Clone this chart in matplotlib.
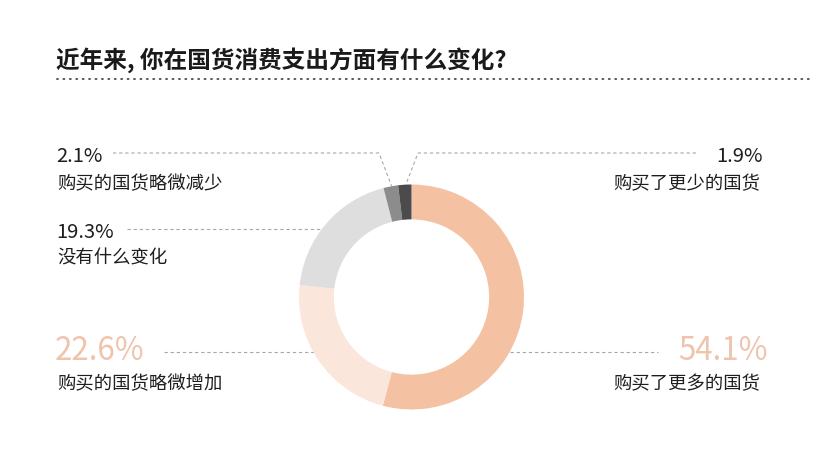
import numpy as np
import matplotlib
matplotlib.use('Agg')
import matplotlib.pyplot as plt

plt.rcParams['font.family'] = ['Noto Sans CJK SC', 'DejaVu Sans']

# data, clockwise from the top
labels = ['购买了更多的国货', '购买的国货略微增加', '没有什么变化',
          '购买的国货略微减少', '购买了更少的国货']
shares = [54.1, 22.6, 19.3, 2.1, 1.9]
colors = ['#F5C1A3', '#FBE6DB', '#DEDEDE', '#8C8C8C', '#4B4B4D']
title = '近年来, 你在国货消费支出方面有什么变化?'

W, H = 814, 458
fig = plt.figure(figsize=(W / 100, H / 100), dpi=100)

# background axes in pixel units for text and leader lines
bg = fig.add_axes([0, 0, 1, 1])
bg.set_xlim(0, W)
bg.set_ylim(H, 0)
bg.axis('off')

# donut
cx, cy, R = 411.5, 297, 112.5
ax = fig.add_axes([(cx - R) / W, (H - cy - R) / H, 2 * R / W, 2 * R / H])
ax.pie(shares, colors=colors, startangle=90, counterclock=False,
       radius=1, wedgeprops=dict(width=0.31, linewidth=0))
ax.set_xlim(-1, 1)
ax.set_ylim(-1, 1)
ax.axis('off')

# title + dotted rule
bg.text(56, 60, title, fontsize=17, fontweight='bold', color='#1A1A1A',
        va='center', ha='left')
bg.plot([57, W], [79, 79], color='#555555', lw=1.4,
        linestyle=(0, (0.5, 2.8)), dash_capstyle='round')

dash = dict(color='#A8A8A8', lw=0.8, linestyle=(0, (3, 2.5)))
pct_small = dict(fontsize=14.5, color='#1E1E1E', va='center', fontweight='medium')
pct_big = dict(fontsize=22.5, color='#F0C3AD', va='center')
lab = dict(fontsize=13.2, color='#1E1E1E', va='center')


def wedge_point(idx):
    # outer edge point at the middle of wedge idx, in pixel coords
    mid = (sum(shares[:idx]) + shares[idx] / 2) / sum(shares)
    ang = np.deg2rad(90 - 360 * mid)
    return cx + R * np.cos(ang), cy - R * np.sin(ang)


# 2.1% (left top)
bg.text(56, 156, f'{shares[3]}%', ha='left', **pct_small)
bg.text(57, 184, labels[3], ha='left', **lab)
px, py = wedge_point(3)
bg.plot([113, 379, px + 1], [153, 153, py], **dash)

# 1.9% (right top)
bg.text(763, 156, f'{shares[4]}%', ha='right', **pct_small)
bg.text(760, 184, labels[4], ha='right', **lab)
px, py = wedge_point(4)
bg.plot([696, 418, px + 1], [153, 153, py], **dash)

# 19.3%
bg.text(56, 232, f'{shares[2]}%', ha='left', **pct_small)
bg.text(57, 259, labels[2], ha='left', **lab)
bg.plot([127, 322], [229, 229], **dash)

# 22.6%
bg.text(55, 351, f'{shares[1]}%', ha='left', **pct_big)
bg.text(57, 384, labels[1], ha='left', **lab)
bg.plot([164, 316], [352, 352], **dash)

# 54.1%
bg.text(768, 351, f'{shares[0]}%', ha='right', **pct_big)
bg.text(760, 384, labels[0], ha='right', **lab)
bg.plot([510, 658], [352, 352], **dash)

fig.savefig('out.png', dpi=100, facecolor='white')
